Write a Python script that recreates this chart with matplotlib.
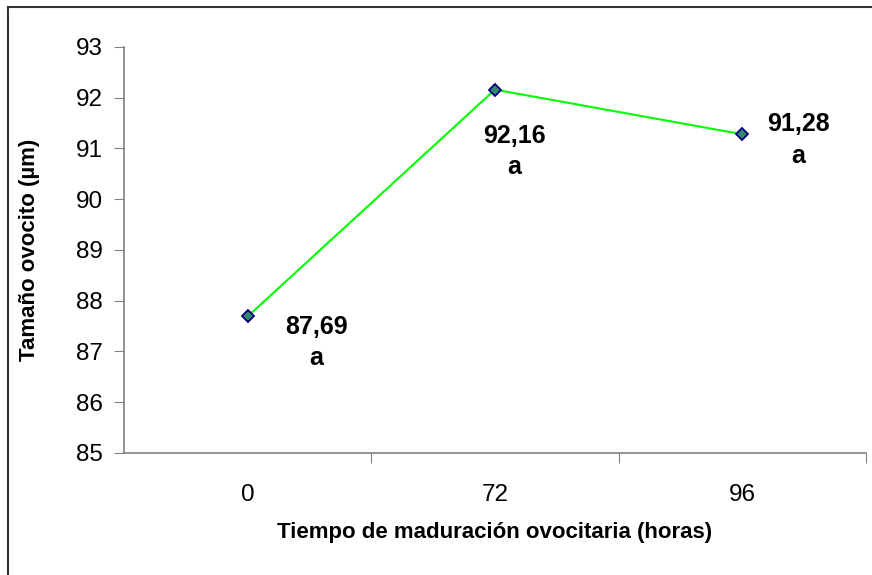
import matplotlib.pyplot as plt
from matplotlib.lines import Line2D
from matplotlib.ticker import FixedLocator, NullFormatter

plt.rcParams['font.family'] = ['Liberation Sans', 'DejaVu Sans']

# data
horas = ['0', '72', '96']
tamano = [87.69, 92.16, 91.28]
letras = ['a', 'a', 'a']
y_ticks = [85, 86, 87, 88, 89, 90, 91, 92, 93]


def main():
    fig = plt.figure(figsize=(8.72, 5.75), dpi=100)
    ax = fig.add_axes([0.1422, 0.2122, 0.8509, 0.7061])

    xpos = [i + 0.5 for i in range(len(horas))]
    ax.plot(xpos, tamano, color='#00ff00', linewidth=1.5, marker='D',
            markersize=6.5, markerfacecolor='#2e8b6a', markeredgecolor='#000080',
            markeredgewidth=1.3, zorder=3)

    # value labels
    offsets = [(69, -26), (19, -62), (56, -6)]
    for x, v, l, off in zip(xpos, tamano, letras, offsets):
        ax.annotate(f'{v:.2f}'.replace('.', ',') + '\n' + l, (x, v),
                    xytext=off, textcoords='offset pixels',
                    ha='center', va='center', fontsize=18, fontweight='bold',
                    linespacing=1.4)

    ax.set_xlim(0, len(horas))
    ax.set_ylim(85, 93)
    ax.set_yticks(y_ticks)
    ax.set_yticklabels([str(t) for t in y_ticks])

    ax.xaxis.set_major_locator(FixedLocator([1, 2, 3]))
    ax.xaxis.set_major_formatter(NullFormatter())
    ax.xaxis.set_minor_locator(FixedLocator(xpos))
    ax.set_xticklabels(horas, minor=True)
    ax.tick_params(axis='x', which='minor', length=0, pad=22, labelsize=17.5)
    ax.tick_params(axis='x', which='major', length=7, color='#808080', direction='out')
    ax.tick_params(axis='y', length=7, color='#808080', direction='out', pad=8, labelsize=17.5)

    for s in ['top', 'right']:
        ax.spines[s].set_visible(False)
    for s in ['left', 'bottom']:
        ax.spines[s].set_color('#808080')
        ax.spines[s].set_linewidth(1.2)

    ax.set_xlabel('Tiempo de maduración ovocitaria (horas)', fontsize=16,
                  fontweight='bold', labelpad=12)
    ax.set_ylabel('Tamaño ovocito (µm)', fontsize=16, fontweight='bold', labelpad=26)

    # outer chart frame (only top and left edges visible)
    fig.add_artist(Line2D([8 / 872, 1.0], [1 - 7 / 575, 1 - 7 / 575],
                          transform=fig.transFigure, color='#333333', linewidth=1.5))
    fig.add_artist(Line2D([8 / 872, 8 / 872], [1 - 7 / 575, 0.0],
                          transform=fig.transFigure, color='#333333', linewidth=1.5))

    fig.savefig('out.png', dpi=100)


if __name__ == "__main__":
    main()
